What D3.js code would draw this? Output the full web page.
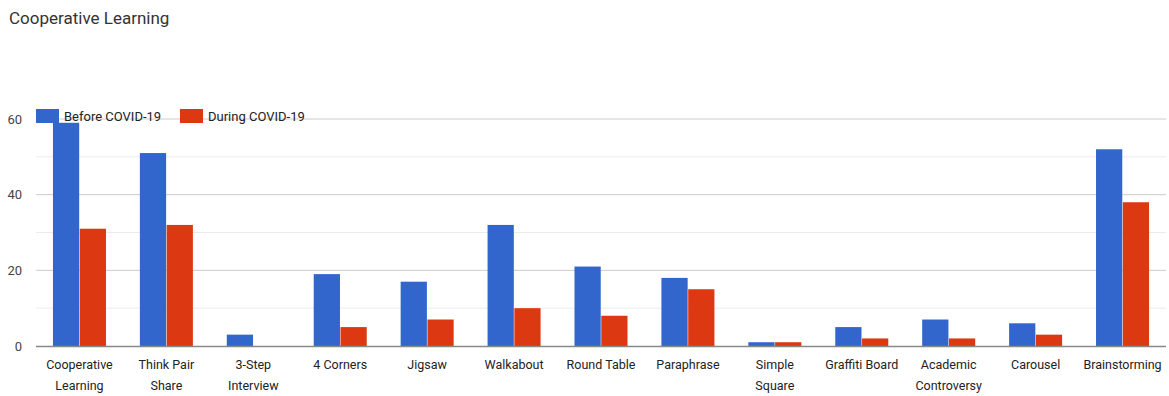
<!DOCTYPE html>
<html><head><meta charset="utf-8">
<script src="https://cdn.jsdelivr.net/npm/d3@7"></script>
<style>body{margin:0;background:#fff;}svg{display:block;font-family:Roboto,Arial,sans-serif;}</style>
</head><body><svg id="c" width="1169" height="396"></svg>
<script>
const categories = ["Cooperative Learning","Think Pair Share","3-Step Interview","4 Corners","Jigsaw","Walkabout","Round Table","Paraphrase","Simple Square","Graffiti Board","Academic Controversy","Carousel","Brainstorming"];
const labelLines = [["Cooperative","Learning"],["Think Pair","Share"],["3-Step","Interview"],["4 Corners"],["Jigsaw"],["Walkabout"],["Round Table"],["Paraphrase"],["Simple","Square"],["Graffiti Board"],["Academic","Controversy"],["Carousel"],["Brainstorming"]];
const seriesNames = ["Before COVID-19","During COVID-19"];
const before = [59,51,3,19,17,32,21,18,1,5,7,6,52];
const during = [31,32,0,5,7,10,8,15,1,2,2,3,38];
const yTicks = [0,20,40,60];
const yMinor = [10,30,50];
const colors = ["#3366cc","#dc3912"];

const svg = d3.select("#c");
const x = d3.scaleBand().domain(categories).range([36,1166]).paddingInner(0.39).paddingOuter(0.195);
const xs = d3.scaleBand().domain([0,1]).range([0,x.bandwidth()]).paddingInner(0.02);
const y = d3.scaleLinear().domain([0,60]).range([346,119]);

svg.append("text").attr("x",9).attr("y",24).attr("font-size",17).attr("fill","#333").text("Cooperative Learning");

const g = svg.append("g");
g.selectAll(".minor").data(yMinor).join("line").attr("x1",36).attr("x2",1166)
 .attr("y1",d=>y(d)).attr("y2",d=>y(d)).attr("stroke","#ebebeb").attr("stroke-width",1);
g.selectAll(".major").data(yTicks.filter(d=>d>0)).join("line").attr("x1",36).attr("x2",1166)
 .attr("y1",d=>y(d)).attr("y2",d=>y(d)).attr("stroke","#cccccc").attr("stroke-width",1);

const yAxis = d3.axisLeft(y).tickValues(yTicks).tickSize(0).tickPadding(14);
const ya = svg.append("g").attr("transform","translate(36,0)").call(yAxis);
ya.select(".domain").remove();
ya.selectAll("text").attr("font-size",13).attr("fill","#444").attr("font-family","Roboto,Arial,sans-serif");

const data = categories.map((c,i)=>({c, v:[before[i],during[i]]}));
const grp = svg.append("g").selectAll("g").data(data).join("g").attr("transform",d=>`translate(${x(d.c)},0)`);
grp.selectAll("rect").data(d=>d.v.map((v,j)=>({v,j}))).join("rect")
 .attr("x",d=>xs(d.j)).attr("width",xs.bandwidth())
 .attr("y",d=>y(d.v)).attr("height",d=>y(0)-y(d.v)).attr("fill",d=>colors[d.j]);

svg.append("line").attr("x1",36).attr("x2",1166).attr("y1",y(0)+0.5).attr("y2",y(0)+0.5).attr("stroke","#888").attr("stroke-width",1.5);

const xa = svg.append("g");
categories.forEach((c,i)=>{
  const t = xa.append("text").attr("x",x(c)+x.bandwidth()/2).attr("text-anchor","middle").attr("font-size",12.5).attr("fill","#222");
  labelLines[i].forEach((l,k)=>t.append("tspan").attr("x",x(c)+x.bandwidth()/2).attr("y",369+k*21).text(l));
});

const leg = svg.append("g");
const legX = [36,180];
seriesNames.forEach((n,i)=>{
  leg.append("rect").attr("x",legX[i]).attr("y",109).attr("width",23).attr("height",14).attr("fill",colors[i]);
  leg.append("text").attr("x",legX[i]+28).attr("y",121).attr("font-size",13).attr("fill","#222").text(n);
});
</script></body></html>
